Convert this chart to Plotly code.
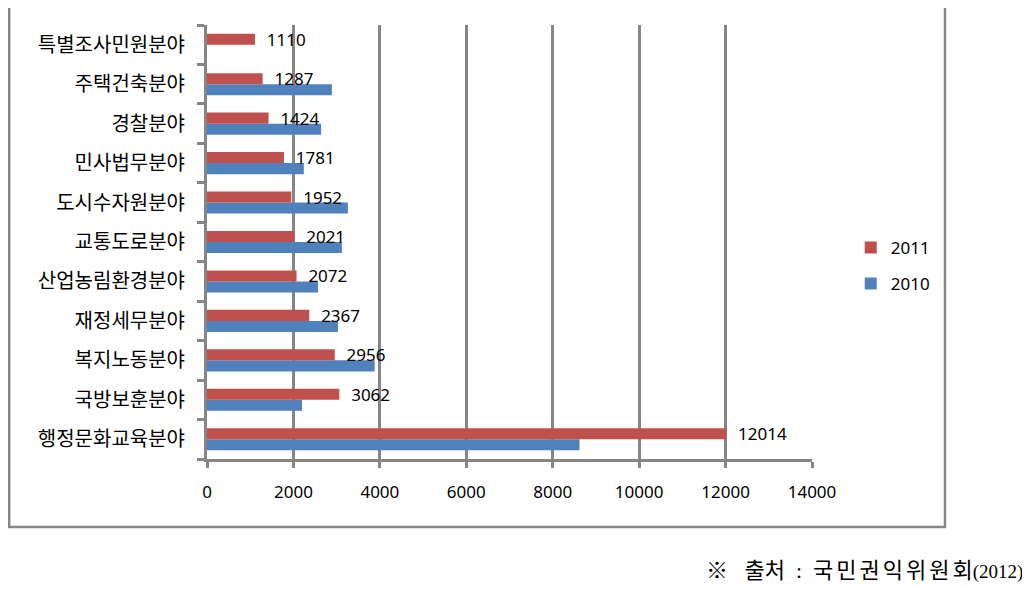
import plotly.graph_objects as go

categories = ["행정문화교육분야", "국방보훈분야", "복지노동분야", "재정세무분야", "산업농림환경분야",
              "교통도로분야", "도시수자원분야", "민사법무분야", "경찰분야", "주택건축분야", "특별조사민원분야"]
values_2011 = [12014, 3062, 2956, 2367, 2072, 2021, 1952, 1781, 1424, 1287, 1110]
values_2010 = [8620, 2200, 3880, 3030, 2570, 3120, 3260, 2240, 2640, 2890, None]
x_ticks = [0, 2000, 4000, 6000, 8000, 10000, 12000, 14000]
source_mark = "※"
source_label = "출처"
source_org = "국민권익위원회"
source_year = "(2012)"

RED = "#C0504D"
BLUE = "#4F81BD"
GRID = "#868686"
KFONT = "Noto Sans CJK KR, Noto Sans, sans-serif"
NFONT = "Noto Sans, sans-serif"

fig = go.Figure()
fig.add_trace(go.Bar(
    y=categories, x=values_2010, orientation="h", name="2010",
    marker=dict(color=BLUE, line=dict(width=0)),
    legendgroup="a", legendrank=2,
))
fig.add_trace(go.Bar(
    y=categories, x=values_2011, orientation="h", name="2011",
    marker=dict(color=RED, line=dict(width=0)),
    text=[str(v) for v in values_2011], texttemplate="  %{text}", textposition="outside",
    constraintext="none",
    textfont=dict(family=NFONT, size=17, color="black"),
    cliponaxis=False, legendgroup="b", legendrank=1,
))

source_html = (source_mark + "   " + source_label + "  :  "
               + "<span style='letter-spacing:3px'>" + source_org[:-1] + "</span>"
               + source_org[-1]
               + "<span style='font-size:19px'>" + source_year + "</span>")

fig.update_layout(
    width=1022, height=581,
    margin=dict(l=199, r=218, t=17, b=130),
    paper_bgcolor="white", plot_bgcolor="white",
    barmode="group", bargap=0.44, bargroupgap=0,
    font=dict(family=KFONT, color="black"),
    showlegend=True,
    legend=dict(
        x=1.064, y=0.528, xanchor="left", yanchor="top",
        traceorder="grouped", tracegroupgap=11,
        font=dict(family=NFONT, size=17),
        bgcolor="rgba(0,0,0,0)",
    ),
    xaxis=dict(
        range=[0, 14000], tickvals=x_ticks, ticktext=[str(v) for v in x_ticks],
        showgrid=True, gridcolor=GRID, gridwidth=3,
        showline=True, linecolor=GRID, linewidth=3,
        ticks="outside", ticklen=6, tickwidth=3, tickcolor=GRID,
        ticklabelstandoff=10,
        tickfont=dict(family=NFONT, size=17, color="black"),
        zeroline=False, fixedrange=True,
    ),
    yaxis=dict(
        categoryorder="array", categoryarray=categories,
        showgrid=False, showline=True, linecolor=GRID, linewidth=3,
        ticks="outside", ticklen=7, tickwidth=3, tickcolor=GRID,
        tickson="boundaries", ticklabelstandoff=15,
        tickfont=dict(family=KFONT, size=20, color="black"),
        zeroline=False, fixedrange=True,
    ),
    shapes=[dict(
        type="rect", xref="paper", yref="paper",
        x0=-0.327, x1=1.2198, y0=-0.1567, y1=1.046,
        line=dict(color=GRID, width=2.5), fillcolor="rgba(0,0,0,0)", layer="below",
    )],
    annotations=[dict(
        text=source_html,
        xref="paper", yref="paper",
        x=1.352, y=-0.256, xanchor="right", yanchor="middle", showarrow=False,
        font=dict(family="Liberation Serif, Noto Sans CJK KR, serif", size=22, color="black"),
    )],
)

fig.write_html("out.html")
